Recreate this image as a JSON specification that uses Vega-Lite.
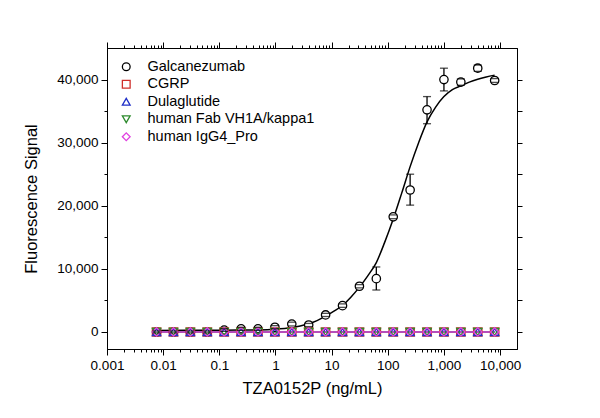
{
  "$schema": "https://vega.github.io/schema/vega-lite/v6.json",
  "autosize": "none",
  "width": 410,
  "height": 301,
  "padding": {"left": 107, "top": 48, "right": 83, "bottom": 69},
  "background": "white",
  "config": {
    "font": "Liberation Sans",
    "view": {"stroke": "black", "strokeWidth": 1},
    "axis": {"domainColor": "black", "tickColor": "black", "labelColor": "black", "titleColor": "black", "labelFont": "Liberation Sans", "titleFont": "Liberation Sans", "grid": false}
  },
  "datasets": {
    "pts": [
      {"conc": 0.00762939, "series": "Galcanezumab", "signal": 0, "lo": -150, "hi": 150},
      {"conc": 0.0152588, "series": "Galcanezumab", "signal": 0, "lo": -150, "hi": 150},
      {"conc": 0.0305176, "series": "Galcanezumab", "signal": 0, "lo": -150, "hi": 150},
      {"conc": 0.0610352, "series": "Galcanezumab", "signal": 0, "lo": -150, "hi": 150},
      {"conc": 0.12207, "series": "Galcanezumab", "signal": 300, "lo": 100, "hi": 500},
      {"conc": 0.244141, "series": "Galcanezumab", "signal": 500, "lo": 250, "hi": 750},
      {"conc": 0.488281, "series": "Galcanezumab", "signal": 500, "lo": 250, "hi": 750},
      {"conc": 0.976563, "series": "Galcanezumab", "signal": 750, "lo": 500, "hi": 1000},
      {"conc": 1.95313, "series": "Galcanezumab", "signal": 1250, "lo": 950, "hi": 1550},
      {"conc": 3.90625, "series": "Galcanezumab", "signal": 1100, "lo": 850, "hi": 1350},
      {"conc": 7.8125, "series": "Galcanezumab", "signal": 2700, "lo": 2450, "hi": 2950},
      {"conc": 15.625, "series": "Galcanezumab", "signal": 4170, "lo": 3900, "hi": 4450},
      {"conc": 31.25, "series": "Galcanezumab", "signal": 7250, "lo": 7000, "hi": 7500},
      {"conc": 62.5, "series": "Galcanezumab", "signal": 8450, "lo": 6650, "hi": 10300},
      {"conc": 125, "series": "Galcanezumab", "signal": 18250, "lo": 17950, "hi": 18550},
      {"conc": 250, "series": "Galcanezumab", "signal": 22500, "lo": 20100, "hi": 25000},
      {"conc": 500, "series": "Galcanezumab", "signal": 35200, "lo": 33000, "hi": 37300},
      {"conc": 1000, "series": "Galcanezumab", "signal": 40000, "lo": 38200, "hi": 41800},
      {"conc": 2000, "series": "Galcanezumab", "signal": 39600, "lo": 39100, "hi": 40100},
      {"conc": 4000, "series": "Galcanezumab", "signal": 41800, "lo": 41300, "hi": 42300},
      {"conc": 8000, "series": "Galcanezumab", "signal": 39850, "lo": 39550, "hi": 40150},
      {"conc": 0.00762939, "series": "CGRP", "signal": 0},
      {"conc": 0.0152588, "series": "CGRP", "signal": 0},
      {"conc": 0.0305176, "series": "CGRP", "signal": 0},
      {"conc": 0.0610352, "series": "CGRP", "signal": 0},
      {"conc": 0.12207, "series": "CGRP", "signal": 0},
      {"conc": 0.244141, "series": "CGRP", "signal": 0},
      {"conc": 0.488281, "series": "CGRP", "signal": 0},
      {"conc": 0.976563, "series": "CGRP", "signal": 0},
      {"conc": 1.95313, "series": "CGRP", "signal": 0},
      {"conc": 3.90625, "series": "CGRP", "signal": 0},
      {"conc": 7.8125, "series": "CGRP", "signal": 0},
      {"conc": 15.625, "series": "CGRP", "signal": 0},
      {"conc": 31.25, "series": "CGRP", "signal": 0},
      {"conc": 62.5, "series": "CGRP", "signal": 0},
      {"conc": 125, "series": "CGRP", "signal": 0},
      {"conc": 250, "series": "CGRP", "signal": 0},
      {"conc": 500, "series": "CGRP", "signal": 0},
      {"conc": 1000, "series": "CGRP", "signal": 0},
      {"conc": 2000, "series": "CGRP", "signal": 0},
      {"conc": 4000, "series": "CGRP", "signal": 0},
      {"conc": 8000, "series": "CGRP", "signal": 0},
      {"conc": 0.00762939, "series": "Dulaglutide", "signal": 0},
      {"conc": 0.0152588, "series": "Dulaglutide", "signal": 0},
      {"conc": 0.0305176, "series": "Dulaglutide", "signal": 0},
      {"conc": 0.0610352, "series": "Dulaglutide", "signal": 0},
      {"conc": 0.12207, "series": "Dulaglutide", "signal": 0},
      {"conc": 0.244141, "series": "Dulaglutide", "signal": 0},
      {"conc": 0.488281, "series": "Dulaglutide", "signal": 0},
      {"conc": 0.976563, "series": "Dulaglutide", "signal": 0},
      {"conc": 1.95313, "series": "Dulaglutide", "signal": 0},
      {"conc": 3.90625, "series": "Dulaglutide", "signal": 0},
      {"conc": 7.8125, "series": "Dulaglutide", "signal": 0},
      {"conc": 15.625, "series": "Dulaglutide", "signal": 0},
      {"conc": 31.25, "series": "Dulaglutide", "signal": 0},
      {"conc": 62.5, "series": "Dulaglutide", "signal": 0},
      {"conc": 125, "series": "Dulaglutide", "signal": 0},
      {"conc": 250, "series": "Dulaglutide", "signal": 0},
      {"conc": 500, "series": "Dulaglutide", "signal": 0},
      {"conc": 1000, "series": "Dulaglutide", "signal": 0},
      {"conc": 2000, "series": "Dulaglutide", "signal": 0},
      {"conc": 4000, "series": "Dulaglutide", "signal": 0},
      {"conc": 8000, "series": "Dulaglutide", "signal": 0},
      {"conc": 0.00762939, "series": "human Fab VH1A/kappa1", "signal": 0},
      {"conc": 0.0152588, "series": "human Fab VH1A/kappa1", "signal": 0},
      {"conc": 0.0305176, "series": "human Fab VH1A/kappa1", "signal": 0},
      {"conc": 0.0610352, "series": "human Fab VH1A/kappa1", "signal": 0},
      {"conc": 0.12207, "series": "human Fab VH1A/kappa1", "signal": 0},
      {"conc": 0.244141, "series": "human Fab VH1A/kappa1", "signal": 0},
      {"conc": 0.488281, "series": "human Fab VH1A/kappa1", "signal": 0},
      {"conc": 0.976563, "series": "human Fab VH1A/kappa1", "signal": 0},
      {"conc": 1.95313, "series": "human Fab VH1A/kappa1", "signal": 0},
      {"conc": 3.90625, "series": "human Fab VH1A/kappa1", "signal": 0},
      {"conc": 7.8125, "series": "human Fab VH1A/kappa1", "signal": 0},
      {"conc": 15.625, "series": "human Fab VH1A/kappa1", "signal": 0},
      {"conc": 31.25, "series": "human Fab VH1A/kappa1", "signal": 0},
      {"conc": 62.5, "series": "human Fab VH1A/kappa1", "signal": 0},
      {"conc": 125, "series": "human Fab VH1A/kappa1", "signal": 0},
      {"conc": 250, "series": "human Fab VH1A/kappa1", "signal": 0},
      {"conc": 500, "series": "human Fab VH1A/kappa1", "signal": 0},
      {"conc": 1000, "series": "human Fab VH1A/kappa1", "signal": 0},
      {"conc": 2000, "series": "human Fab VH1A/kappa1", "signal": 0},
      {"conc": 4000, "series": "human Fab VH1A/kappa1", "signal": 0},
      {"conc": 8000, "series": "human Fab VH1A/kappa1", "signal": 0},
      {"conc": 0.00762939, "series": "human IgG4_Pro", "signal": 0},
      {"conc": 0.0152588, "series": "human IgG4_Pro", "signal": 0},
      {"conc": 0.0305176, "series": "human IgG4_Pro", "signal": 0},
      {"conc": 0.0610352, "series": "human IgG4_Pro", "signal": 0},
      {"conc": 0.12207, "series": "human IgG4_Pro", "signal": 0},
      {"conc": 0.244141, "series": "human IgG4_Pro", "signal": 0},
      {"conc": 0.488281, "series": "human IgG4_Pro", "signal": 0},
      {"conc": 0.976563, "series": "human IgG4_Pro", "signal": 0},
      {"conc": 1.95313, "series": "human IgG4_Pro", "signal": 0},
      {"conc": 3.90625, "series": "human IgG4_Pro", "signal": 0},
      {"conc": 7.8125, "series": "human IgG4_Pro", "signal": 0},
      {"conc": 15.625, "series": "human IgG4_Pro", "signal": 0},
      {"conc": 31.25, "series": "human IgG4_Pro", "signal": 0},
      {"conc": 62.5, "series": "human IgG4_Pro", "signal": 0},
      {"conc": 125, "series": "human IgG4_Pro", "signal": 0},
      {"conc": 250, "series": "human IgG4_Pro", "signal": 0},
      {"conc": 500, "series": "human IgG4_Pro", "signal": 0},
      {"conc": 1000, "series": "human IgG4_Pro", "signal": 0},
      {"conc": 2000, "series": "human IgG4_Pro", "signal": 0},
      {"conc": 4000, "series": "human IgG4_Pro", "signal": 0},
      {"conc": 8000, "series": "human IgG4_Pro", "signal": 0}
    ],
    "fit": [
      {"conc": 0.0076, "signal": 250},
      {"conc": 0.03, "signal": 260},
      {"conc": 0.12, "signal": 290},
      {"conc": 0.49, "signal": 330},
      {"conc": 0.98, "signal": 430},
      {"conc": 1.95, "signal": 700},
      {"conc": 2.76, "signal": 950},
      {"conc": 3.9, "signal": 1300},
      {"conc": 5.5, "signal": 1800},
      {"conc": 7.8, "signal": 2500},
      {"conc": 11, "signal": 3300},
      {"conc": 15.6, "signal": 4200},
      {"conc": 22, "signal": 5500},
      {"conc": 31.25, "signal": 7100},
      {"conc": 44, "signal": 8900},
      {"conc": 62.5, "signal": 11000},
      {"conc": 88, "signal": 14200},
      {"conc": 125, "signal": 17900},
      {"conc": 177, "signal": 22000},
      {"conc": 250, "signal": 26200},
      {"conc": 354, "signal": 30000},
      {"conc": 500, "signal": 33300},
      {"conc": 707, "signal": 35600},
      {"conc": 1000, "signal": 37300},
      {"conc": 1414, "signal": 38400},
      {"conc": 2000, "signal": 39000},
      {"conc": 2828, "signal": 39600},
      {"conc": 4000, "signal": 40050},
      {"conc": 5657, "signal": 40400},
      {"conc": 8000, "signal": 40700}
    ]
  },
  "layer": [
    {
      "data": {"name": "fit"},
      "mark": {"type": "line", "color": "black", "strokeWidth": 1.5, "interpolate": "monotone"},
      "encoding": {
        "x": {
          "field": "conc", "type": "quantitative",
          "scale": {"type": "log", "domain": [0.001, 20000], "nice": false},
          "axis": {
            "orient": "bottom",
            "title": "TZA0152P (ng/mL)",
            "titleFontSize": 16.5, "titleFontWeight": "normal", "titlePadding": 9,
            "labelFontSize": 13.5, "labelPadding": 3, "labelOverlap": false, "labelFlush": false,
            "values": [0.001,0.002,0.003,0.004,0.005,0.006,0.007,0.008,0.009,0.01,0.02,0.03,0.04,0.05,0.06,0.07,0.08,0.09,0.1,0.2,0.3,0.4,0.5,0.6,0.7,0.8,0.9,1,2,3,4,5,6,7,8,9,10,20,30,40,50,60,70,80,90,100,200,300,400,500,600,700,800,900,1000,2000,3000,4000,5000,6000,7000,8000,9000,10000],
            "labelExpr": "indexof([0.001,0.01,0.1,1,10,100,1000,10000], datum.value) >= 0 ? format(datum.value, ',') : ''",
            "tickSize": {"condition": {"test": "indexof([0.001,0.01,0.1,1,10,100,1000,10000], datum.value) >= 0", "value": 6}, "value": 3},
            "domainWidth": 1
          }
        },
        "y": {
          "field": "signal", "type": "quantitative",
          "scale": {"domain": [-2700, 45000], "nice": false, "zero": false},
          "axis": {
            "orient": "left",
            "title": "Fluorescence Signal",
            "titleFontSize": 16.5, "titleFontWeight": "normal", "titlePadding": 17,
            "labelFontSize": 13.5, "labelPadding": 3,
            "values": [0,5000,10000,15000,20000,25000,30000,35000,40000],
            "labelExpr": "datum.value % 10000 == 0 ? format(datum.value, ',') : ''",
            "tickSize": {"condition": {"test": "datum.value % 10000 == 0", "value": 6}, "value": 3}
          }
        }
      }
    },
    {
      "data": {"name": "pts"},
      "transform": [{"filter": "datum.series === 'Galcanezumab'"}],
      "mark": {"type": "rule", "color": "black", "strokeWidth": 1.3},
      "encoding": {
        "x": {"field": "conc", "type": "quantitative", "axis": null},
        "y": {"field": "lo", "type": "quantitative", "axis": null},
        "y2": {"field": "hi"}
      }
    },
    {
      "data": {"name": "pts"},
      "transform": [{"filter": "datum.series !== 'Galcanezumab'"}],
      "mark": {"type": "line", "strokeWidth": 1.5},
      "encoding": {
        "x": {
          "field": "conc", "type": "quantitative",
          "axis": {
            "orient": "top", "title": null, "labels": false,
            "values": [0.001,0.002,0.003,0.004,0.005,0.006,0.007,0.008,0.009,0.01,0.02,0.03,0.04,0.05,0.06,0.07,0.08,0.09,0.1,0.2,0.3,0.4,0.5,0.6,0.7,0.8,0.9,1,2,3,4,5,6,7,8,9,10,20,30,40,50,60,70,80,90,100,200,300,400,500,600,700,800,900,1000,2000,3000,4000,5000,6000,7000,8000,9000,10000],
            "tickSize": {"condition": {"test": "indexof([0.001,0.01,0.1,1,10,100,1000,10000], datum.value) >= 0", "value": 6}, "value": 3}
          }
        },
        "y": {
          "field": "signal", "type": "quantitative",
          "axis": {
            "orient": "right", "title": null, "labels": false,
            "values": [0,5000,10000,15000,20000,25000,30000,35000,40000],
            "tickSize": 5
          }
        },
        "detail": {"field": "series"},
        "stroke": {
          "field": "series", "type": "nominal", "legend": null,
          "scale": {
            "domain": ["CGRP", "Dulaglutide", "human Fab VH1A/kappa1", "human IgG4_Pro"],
            "range": ["#d0302c", "#2030c8", "#2e8b2e", "#e040e0"]
          }
        },
        "order": {"field": "conc", "type": "quantitative"}
      }
    },
    {
      "data": {"name": "pts"},
      "mark": {"type": "point", "filled": false, "fill": "white", "opacity": 1, "size": 70, "strokeWidth": 1.3},
      "encoding": {
        "x": {"field": "conc", "type": "quantitative", "axis": null},
        "y": {"field": "signal", "type": "quantitative", "axis": null},
        "fillOpacity": {"condition": {"test": "datum.series === 'Galcanezumab'", "value": 1}, "value": 0},
        "color": {
          "field": "series", "type": "nominal",
          "scale": {
            "domain": ["Galcanezumab", "CGRP", "Dulaglutide", "human Fab VH1A/kappa1", "human IgG4_Pro"],
            "range": ["#000000", "#d0302c", "#2030c8", "#2e8b2e", "#e040e0"]
          },
          "legend": {
            "orient": "none", "legendX": 12, "legendY": 11.5, "title": null,
            "labelFontSize": 14.5, "labelFont": "Liberation Sans", "labelColor": "black", "labelLimit": 400,
            "symbolSize": 60, "symbolStrokeWidth": 1.3, "symbolFillColor": "white", "symbolOpacity": 1,
            "rowPadding": 2.5, "labelOffset": 14, "padding": 0
          }
        },
        "shape": {
          "field": "series", "type": "nominal",
          "scale": {
            "domain": ["Galcanezumab", "CGRP", "Dulaglutide", "human Fab VH1A/kappa1", "human IgG4_Pro"],
            "range": ["circle", "square", "triangle-up", "triangle-down", "diamond"]
          }
        }
      }
    },
    {
      "data": {"name": "pts"},
      "transform": [{"filter": "datum.series === 'Galcanezumab'"}],
      "mark": {"type": "tick", "color": "black", "orient": "horizontal", "size": 8, "thickness": 1.3},
      "encoding": {
        "x": {"field": "conc", "type": "quantitative", "axis": null},
        "y": {"field": "lo", "type": "quantitative", "axis": null}
      }
    },
    {
      "data": {"name": "pts"},
      "transform": [{"filter": "datum.series === 'Galcanezumab'"}],
      "mark": {"type": "tick", "color": "black", "orient": "horizontal", "size": 8, "thickness": 1.3},
      "encoding": {
        "x": {"field": "conc", "type": "quantitative", "axis": null},
        "y": {"field": "hi", "type": "quantitative", "axis": null}
      }
    }
  ]
}
